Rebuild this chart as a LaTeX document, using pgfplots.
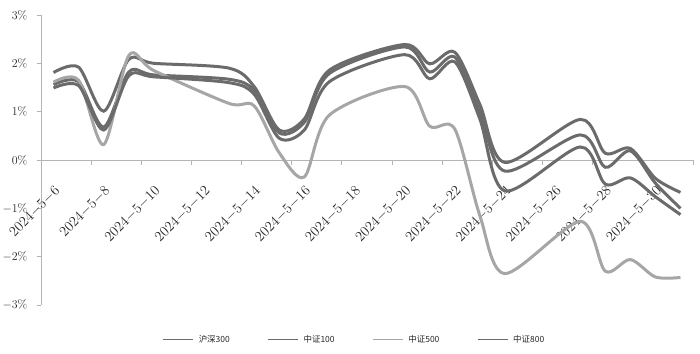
\documentclass[border=0pt]{standalone}
\usepackage{pgfplots}
\usepackage{pgfplotstable}
\pgfplotsset{compat=1.18}
\usepackage{fontspec}
\newfontfamily\cjk{Noto Sans CJK SC}
\definecolor{darkline}{HTML}{6B6B6B}
\definecolor{lightline}{HTML}{A6A6A6}
\definecolor{axisgray}{HTML}{B4B4B4}
\definecolor{txt}{HTML}{262626}

% d = day index from 2024-5-6 (calendar days)
% M = hs300, T = zz100, L = zz500, B = zz800
\pgfplotstableread{
d  M     T     L      B
0  1.56  1.81  1.61   1.49
1  1.62  1.92  1.65   1.54
2  0.68  1.01  0.32   0.62
3  1.82  2.08  2.16   1.74
4  1.76  2.00  1.85   1.72
7  1.67  1.90  1.17   1.60
8  1.44  1.52  1.12   1.36
9  0.56  0.62  0.15   0.45
10 0.78  0.85  -0.35  0.62
11 1.79  1.86  0.93   1.62
14 2.34  2.39  1.52   2.18
15 1.82  1.99  0.70   1.68
16 2.13  2.23  0.64   2.03
17 1.00  1.15  -1.15  0.85
18 -0.23 -0.05 -2.35  -0.64
21 0.52  0.84  -1.27  0.27
22 -0.15 0.14  -2.30  -0.50
23 0.19  0.24  -2.06  -0.37
24 -0.48 -0.38 -2.42  -0.76
25 -1.00 -0.67 -2.43  -1.13
}\data

\begin{document}
\begin{tikzpicture}
\useasboundingbox (-41bp,-49bp) rectangle (659bp,305bp);
\begin{axis}[
  scale only axis,
  width=652bp, height=290bp,
  xmin=-0.5, xmax=25.5,
  ymin=-3, ymax=3,
  axis x line*=middle,
  axis y line*=left,
  axis line style={axisgray, line width=0.9bp},
  xtick={0,2,...,24},
  xticklabels={$2024{-}5{-}6$,$2024{-}5{-}8$,$2024{-}5{-}10$,$2024{-}5{-}12$,$2024{-}5{-}14$,$2024{-}5{-}16$,$2024{-}5{-}18$,$2024{-}5{-}20$,$2024{-}5{-}22$,$2024{-}5{-}24$,$2024{-}5{-}26$,$2024{-}5{-}28$,$2024{-}5{-}30$},
  xtick style={draw=none},
  xticklabel style={yshift=-25bp, xshift=4bp, rotate=45, anchor=east, font=\fontsize{13.5}{15}\selectfont, text=txt, inner sep=0bp},
  ytick={-3,-2,...,3},
  yticklabel={$\pgfmathprintnumber{\tick}\%$},
  yticklabel style={font=\fontsize{12}{14}\selectfont, text=txt, xshift=-6bp},
  ytick style={axisgray, line width=0.9bp},
  tick align=outside,
  major tick length=4bp,
  clip=false,
  legend columns=4,
  legend style={at={(0.481,-0.12)}, anchor=center, draw=none, fill=none,
    font=\cjk\fontsize{8.5}{10}\selectfont, text=txt,
    /tikz/every odd column/.append style={column sep=3bp},
    /tikz/every even column/.append style={column sep=36bp}},
  legend image code/.code={\draw[#1, line width=0.8bp] (0bp,0bp) -- (30bp,0bp);},
  every axis plot/.append style={line width=3bp, smooth, tension=0.5},
]
\pgfplotsinvokeforeach{1.5,3.5,5.5,7.5,9.5,11.5,13.5,15.5,17.5,19.5,21.5,23.5,25.5}{
  \draw[axisgray, line width=0.9bp] (axis cs:#1,0) -- ([yshift=-5bp]axis cs:#1,0);
}
\addplot[color=darkline] table[x=d, y=M] {\data};
\addlegendentry{沪深300}
\addplot[color=darkline] table[x=d, y=T] {\data};
\addlegendentry{中证100}
\addplot[color=lightline] table[x=d, y=L] {\data};
\addlegendentry{中证500}
\addplot[color=darkline] table[x=d, y=B] {\data};
\addlegendentry{中证800}
\end{axis}
\end{tikzpicture}
\end{document}
